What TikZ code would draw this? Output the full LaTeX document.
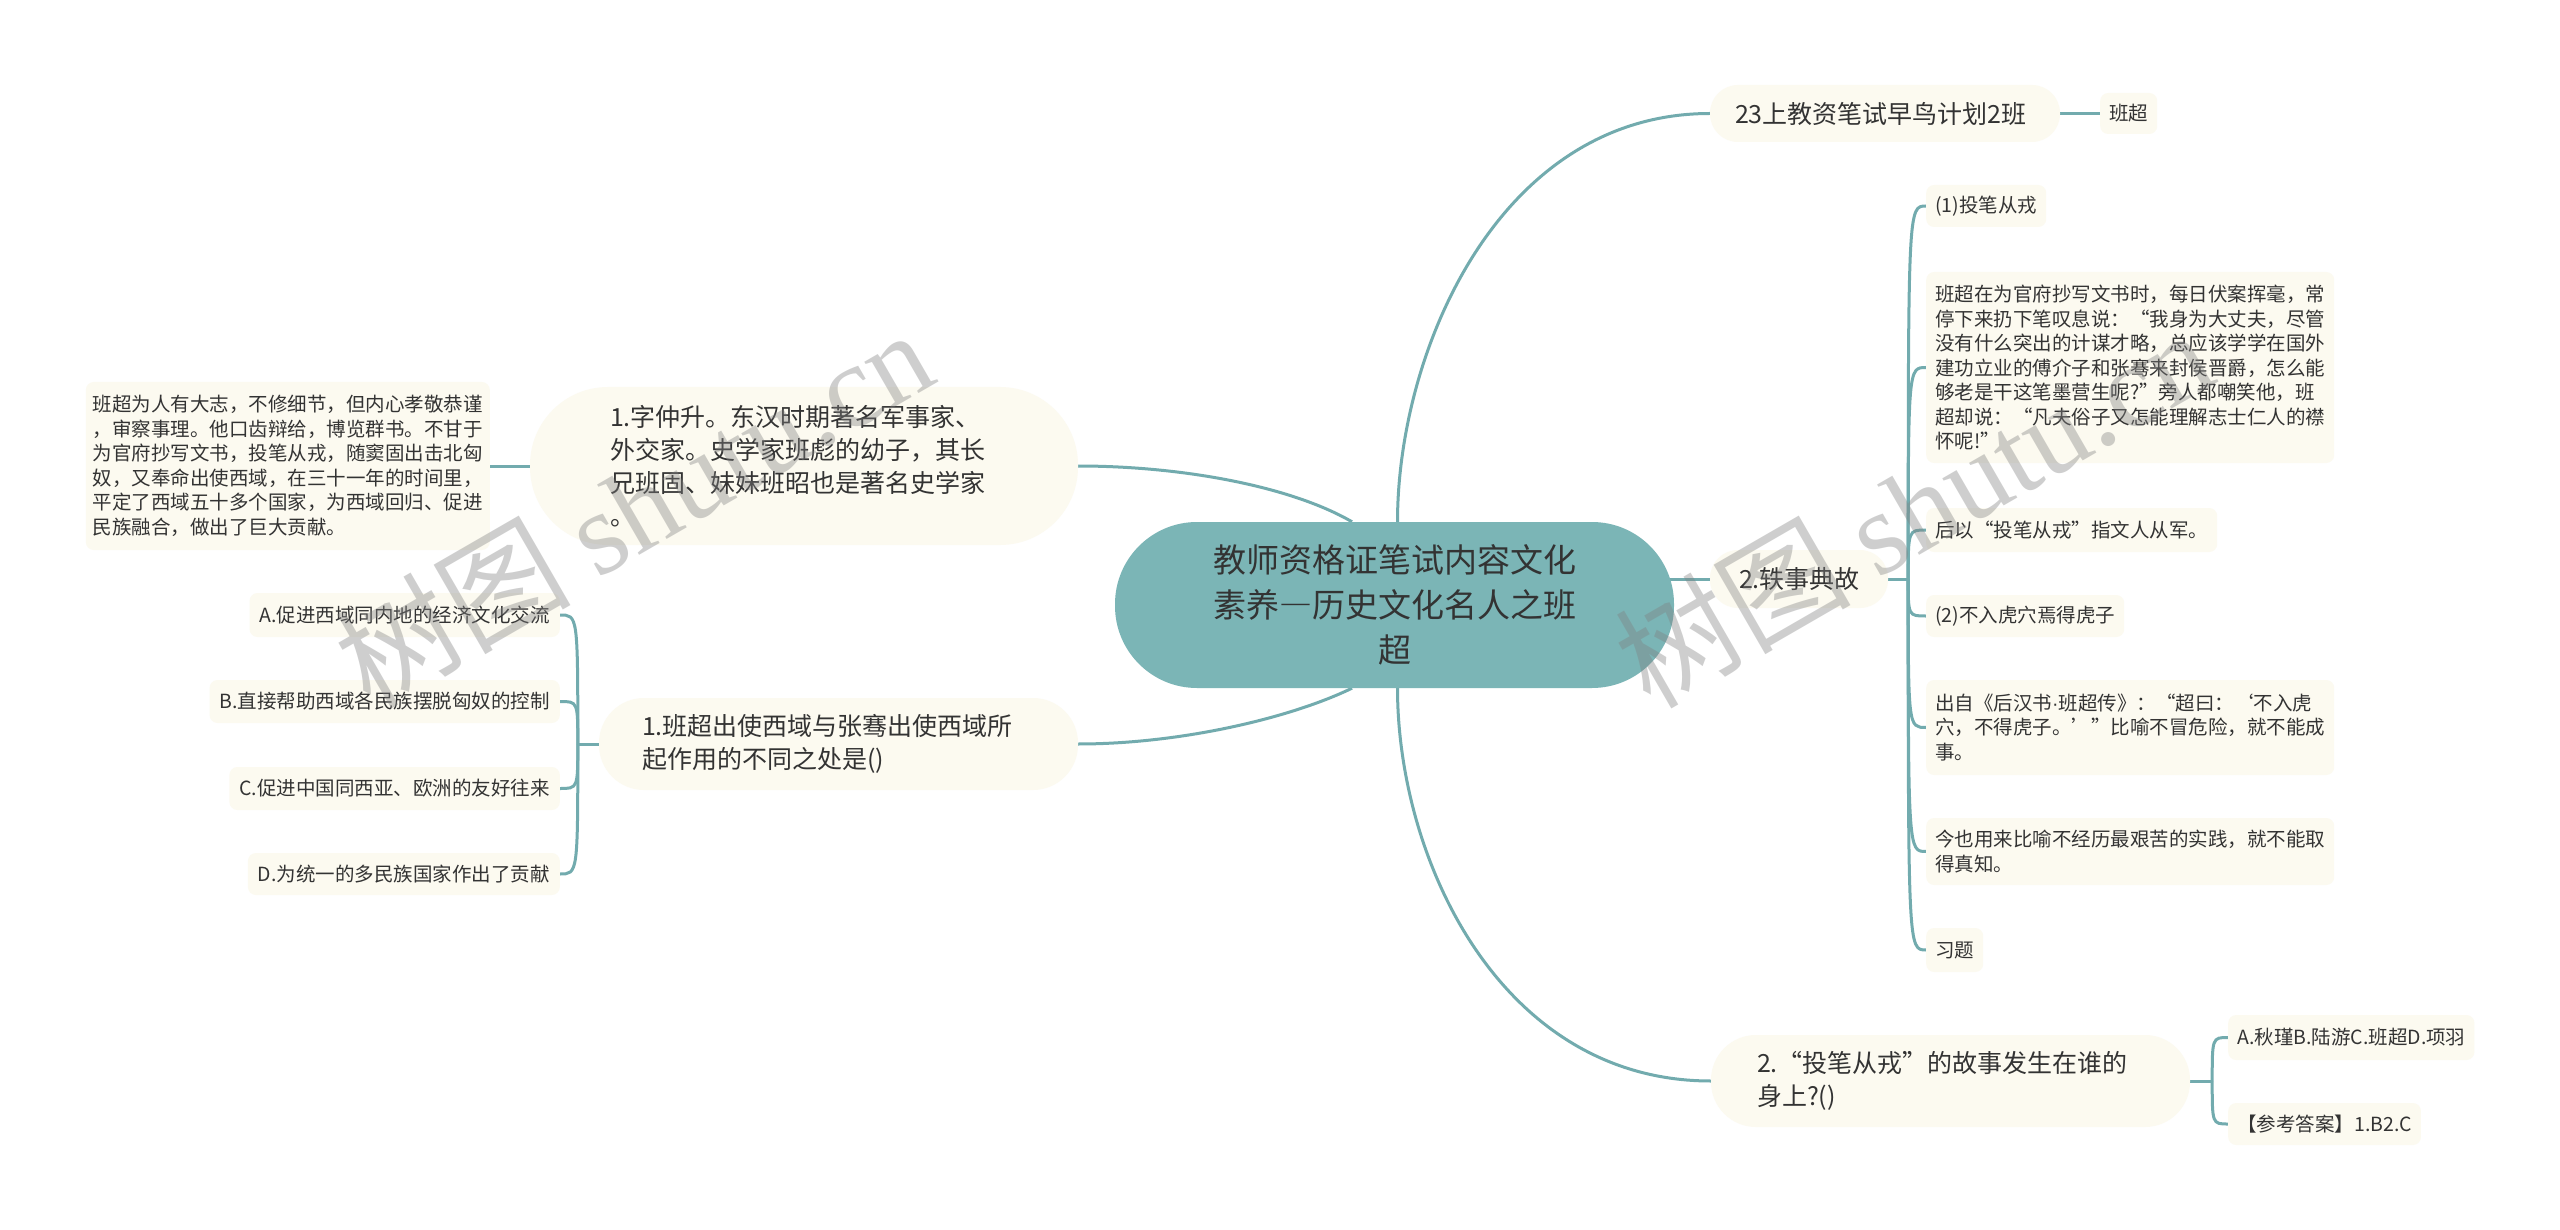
\documentclass[tikz,border=0pt]{standalone}
\usepackage{fontspec}
\setmainfont{Noto Sans CJK SC}
\newfontfamily\fwfont[RawFeature=+fwid]{Noto Sans CJK SC}
\newfontfamily\wmlatin{Liberation Serif}
\newfontfamily\narrowfont{Liberation Sans}
\newcommand\fwq[1]{{\fwfont #1}}
\definecolor{linec}{HTML}{72ABAE}
\definecolor{rootc}{HTML}{7BB5B6}
\definecolor{boxc}{HTML}{FCFAF0}
\definecolor{txtc}{HTML}{333333}
\definecolor{wmc}{HTML}{808080}
\pgfdeclarelayer{bg}
\pgfsetlayers{bg,main}
\begin{document}
\begin{tikzpicture}[x=1pt,y=-1pt,
  conn/.style={draw=linec, line width=3pt},
  base/.style={fill=boxc, text=txtc, inner ysep=0pt},
  pill/.style={base, align=left, font=\fontsize{25}{33}\selectfont},
  small/.style={base, align=left, rounded corners=8pt, inner xsep=9pt, font=\fontsize{19.5}{24.5}\selectfont},
  rootnode/.style={fill=rootc, text=txtc, rounded corners=82pt, minimum height=166pt, text width=400pt, align=center, inner xsep=79.5pt, inner ysep=0pt, font=\fontsize{33}{45}\selectfont},
  wm/.style={text=wmc, opacity=0.38, font=\fontsize{118}{118}\selectfont, inner sep=0pt}
]
\useasboundingbox (0,0) rectangle (2560,1230);

% central
\node[rootnode] (root) at (1394.5,605) {教师资格证笔试内容文化\\素养{\fwfont —}历史文化名人之班\\超};

% right main branches
\node[pill, text width=300pt, inner xsep=25pt, minimum height=57pt, rounded corners=28pt] (n23) at (1885,113.5) {23上教资笔试早鸟计划2班};
\node[small, anchor=west, minimum height=41pt] (bc) at (2100,113.5) {班超};

\node[pill, text width=120pt, inner xsep=29pt, minimum height=58pt, rounded corners=28pt] (n2) at (1799,579) {2.轶事典故};

\node[small, anchor=west, minimum height=42pt] (r1) at (1926,206) {(1)投笔从戎};
\node[small, anchor=west, minimum height=191pt] (r2) at (1926,367.5) {班超在为官府抄写文书时，每日伏案挥毫，常\\停下来扔下笔叹息说：\fwq{“}我身为大丈夫，尽管\\没有什么突出的计谋才略，总应该学学在国外\\建功立业的傅介子和张骞来封侯晋爵，怎么能\\够老是干这笔墨营生呢?\fwq{”}旁人都嘲笑他，班\\超却说：\fwq{“}凡夫俗子又怎能理解志士仁人的襟\\怀呢!\fwq{”}};
\node[small, anchor=west, minimum height=44pt] (r3) at (1926,530) {后以\fwq{“}投笔从戎\fwq{”}指文人从军。};
\node[small, anchor=west, minimum height=42pt] (r4) at (1926,616) {(2)不入虎穴焉得虎子};
\node[small, anchor=west, minimum height=95pt] (r5) at (1926,727.5) {出自《后汉书{\narrowfont ·}班超传》：\fwq{“}超曰：\fwq{‘}不入虎\\穴，不得虎子。\fwq{’}\fwq{”}比喻不冒危险，就不能成\\事。};
\node[small, anchor=west, minimum height=67pt] (r6) at (1926,851.5) {今也用来比喻不经历最艰苦的实践，就不能取\\得真知。};
\node[small, anchor=west, minimum height=44pt] (r7) at (1926,950) {习题};

\node[pill, text width=387pt, inner xsep=46pt, minimum height=92pt, rounded corners=45pt] (nB) at (1950.5,1081) {2.\fwq{“}投笔从戎\fwq{”}的故事发生在谁的\\身上?()};
\node[small, anchor=west, minimum height=45pt] (s1) at (2228,1037.5) {A.秋瑾B.陆游C.班超D.项羽};
\node[small, anchor=west, minimum height=42pt] (s2) at (2228,1124) {【参考答案】1.B2.C};

% left branches
\node[pill, text width=388pt, inner xsep=80pt, minimum height=158pt, rounded corners=78pt] (nL1) at (804,466) {1.字仲升。东汉时期著名军事家、\\外交家。史学家班彪的幼子，其长\\兄班固、妹妹班昭也是著名史学家\\。};
\node[small, anchor=east, minimum height=168pt, inner xsep=7pt] (lb) at (490,466) {班超为人有大志，不修细节，但内心孝敬恭谨\\，审察事理。他口齿辩给，博览群书。不甘于\\为官府抄写文书，投笔从戎，随窦固出击北匈\\奴，又奉命出使西域，在三十一年的时间里，\\平定了西域五十多个国家，为西域回归、促进\\民族融合，做出了巨大贡献。};

\node[pill, text width=393pt, inner xsep=43pt, minimum height=92pt, rounded corners=45pt] (nL2) at (838.5,744) {1.班超出使西域与张骞出使西域所\\起作用的不同之处是()};
\node[small, anchor=east, minimum height=44pt, inner xsep=10pt] (qa) at (560,615) {A.促进西域同内地的经济文化交流};
\node[small, anchor=east, minimum height=43pt, inner xsep=10pt] (qb) at (560,701.5) {B.直接帮助西域各民族摆脱匈奴的控制};
\node[small, anchor=east, minimum height=43pt, inner xsep=10pt] (qc) at (560,788.5) {C.促进中国同西亚、欧洲的友好往来};
\node[small, anchor=east, minimum height=42pt, inner xsep=10pt] (qd) at (560,874) {D.为统一的多民族国家作出了贡献};

% connectors
\begin{pgfonlayer}{bg}
\fill[white] (0,0) rectangle (2560,1230);
\draw[conn] ([xshift=3pt]root.north) .. controls +(0,-172) and +(-210,0) .. (n23.west);
\draw[conn] ([xshift=3pt]root.south) .. controls +(0,172) and +(-210,0) .. (nB.west);
\draw[conn] ([xshift=-42.5pt]root.north) .. controls +(-62,-36) and +(102,0) .. (nL1.east);
\draw[conn] ([xshift=-42.5pt]root.south) .. controls +(-62,30) and +(102,0) .. (nL2.east);
\draw[conn] (root.center |- n2.west) -- (n2.west);
\draw[conn] (n23.east) -- (bc.west);
\draw[conn] (nL1.west) -- (lb.east);

\draw[conn] (n2.east) -- ++(20,0) coordinate (br);
\foreach \c in {r1,r2,r3,r4,r5,r6,r7}
  \draw[conn] (br) .. controls (br |- \c.west) .. (\c.west);

\draw[conn] (nB.east) -- ++(22,0) coordinate (bb);
\foreach \c in {s1,s2}
  \draw[conn] (bb) .. controls (bb |- \c.west) .. (\c.west);

\draw[conn] (nL2.west) -- ++(-21,0) coordinate (bl);
\foreach \c in {qa,qb,qc,qd}
  \draw[conn] (bl) .. controls (bl |- \c.east) .. (\c.east);
\end{pgfonlayer}

% watermarks
\node[wm, rotate=30] (wm1) at (633,507) {树图 {\wmlatin shutu.cn}};
\node[wm, rotate=30] (wm2) at (1913,507) {树图 {\wmlatin shutu.cn}};
\end{tikzpicture}
\end{document}
